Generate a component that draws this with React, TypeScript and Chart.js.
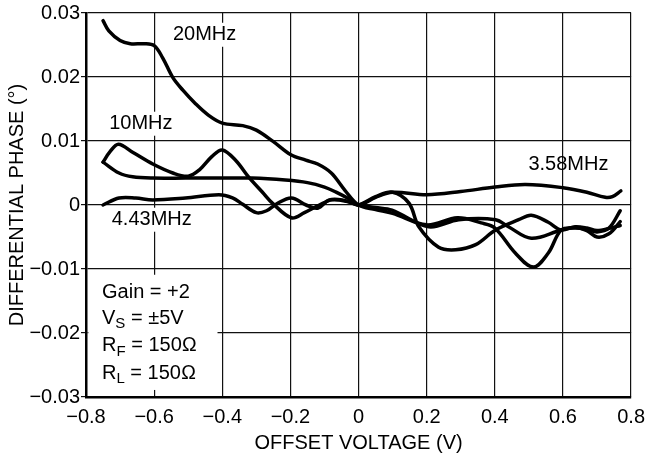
import React, { useEffect, useRef } from "react";
import { Chart, registerables } from "chart.js";
Chart.register(...registerables);

const FONT = '"Liberation Sans", Arial, Helvetica, sans-serif';

const xTickLabels = ["\u22120.8", "\u22120.6", "\u22120.4", "\u22120.2", "0", "0.2", "0.4", "0.6", "0.8"];
const yTickLabels = ["\u22120.03", "\u22120.02", "\u22120.01", "0", "0.01", "0.02", "0.03"];

const x20 = [-0.75, -0.733, -0.7, -0.67, -0.63, -0.6, -0.575, -0.545, -0.515, -0.48, -0.44, -0.4, -0.34, -0.3, -0.25, -0.2, -0.155, -0.12, -0.08, -0.04, 0, 0.05, 0.1, 0.2, 0.29, 0.36, 0.4, 0.46, 0.513, 0.557, 0.595, 0.636, 0.67, 0.7, 0.735, 0.768];
const y20 = [0.0288, 0.0272, 0.0257, 0.0252, 0.0252, 0.0249, 0.023, 0.0199, 0.0179, 0.0159, 0.014, 0.0128, 0.0124, 0.0117, 0.0099, 0.0079, 0.007, 0.0064, 0.005, 0.0023, 0, -0.0007, -0.0013, -0.0031, -0.002, -0.0028, -0.0036, -0.0075, -0.0097, -0.0075, -0.0039, -0.0036, -0.0038, -0.0042, -0.0036, -0.0009];

const x10 = [-0.75, -0.73, -0.705, -0.662, -0.604, -0.545, -0.5, -0.467, -0.43, -0.4, -0.361, -0.323, -0.282, -0.253, -0.197, -0.159, -0.115, -0.078, -0.029, 0, 0.05, 0.1, 0.148, 0.177, 0.235, 0.285, 0.344, 0.402, 0.47, 0.507, 0.557, 0.595, 0.636, 0.67, 0.7, 0.74, 0.768];
const y10 = [0.0067, 0.0083, 0.0095, 0.0082, 0.0064, 0.005, 0.0045, 0.0055, 0.0076, 0.0086, 0.007, 0.0044, 0.002, 0.0003, -0.002, -0.0012, 0, 0.0008, 0.0005, 0, 0.0013, 0.002, 0.0003, -0.0034, -0.0066, -0.007, -0.0062, -0.0039, -0.0023, -0.0016, -0.0027, -0.0039, -0.0034, -0.0036, -0.004, -0.0036, -0.0032];

const x443 = [-0.75, -0.703, -0.654, -0.604, -0.508, -0.41, -0.37, -0.34, -0.3, -0.27, -0.24, -0.197, -0.154, -0.12, -0.086, -0.048, 0, 0.05, 0.098, 0.206, 0.294, 0.402, 0.44, 0.507, 0.595, 0.636, 0.67, 0.7, 0.735, 0.768];
const y443 = [0, 0.0011, 0.0011, 0.0008, 0.0011, 0.0016, 0.0011, 0.0001, -0.0012, -0.0009, 0.0002, 0.0011, 0, -0.0005, 0.0008, 0.0008, 0, -0.0004, -0.0008, -0.0034, -0.0023, -0.0023, -0.0034, -0.0052, -0.0039, -0.0035, -0.004, -0.005, -0.0045, -0.0026];

const x358 = [-0.75, -0.703, -0.663, -0.604, -0.508, -0.41, -0.312, -0.215, -0.15, -0.1, -0.066, -0.03, 0, 0.05, 0.1, 0.2, 0.3, 0.4, 0.49, 0.6, 0.67, 0.724, 0.745, 0.77];
const y358 = [0.0067, 0.005, 0.0044, 0.0042, 0.0042, 0.0042, 0.0042, 0.0039, 0.0035, 0.0028, 0.002, 0.001, 0, 0.0012, 0.002, 0.0016, 0.0021, 0.0028, 0.0032, 0.0027, 0.002, 0.0012, 0.0013, 0.0022];

const curveNames = ["20MHz", "10MHz", "4.43MHz", "3.58MHz"];

function pts(xs: number[], ys: number[]) {
  return xs.map((x, i) => ({ x, y: ys[i] }));
}

const annotPlugin = {
  id: "annot",
  beforeDatasetsDraw(chart: any) {
    const { ctx, scales } = chart;
    const xs = scales.x;
    const ys = scales.y;
    const px = (v: number) => xs.getPixelForValue(v);
    const py = (v: number) => ys.getPixelForValue(v);
    ctx.save();
    const bx0 = px(-0.793);
    const bx1 = px(-0.414);
    const by0 = py(-0.0109);
    const by1 = py(-0.0289);
    ctx.fillStyle = "#fff";
    ctx.fillRect(bx0, by0, bx1 - bx0, by1 - by0);

    ctx.font = `20px ${FONT}`;
    ctx.textBaseline = "middle";
    ctx.textAlign = "center";
    const labelPos: [number, number, boolean][] = [
      [-0.452, 0.0266, true],
      [-0.639, 0.0127, true],
      [-0.607, -0.0023, true],
      [0.616, 0.0064, false],
    ];
    curveNames.forEach((name, i) => {
      const [vx, vy, bg] = labelPos[i];
      const cx = px(vx);
      const cy = py(vy);
      const w = ctx.measureText(name).width;
      if (bg) {
        ctx.fillStyle = "#fff";
        ctx.fillRect(cx - w / 2 - 2, cy - 12, w + 4, 24);
      }
      ctx.fillStyle = "#000";
      ctx.fillText(name, cx, cy);
    });

    ctx.textAlign = "left";
    const lx = px(-0.753);
    const drawSub = (y: number, main: string, sub: string, rest: string) => {
      ctx.font = `20px ${FONT}`;
      ctx.fillStyle = "#000";
      let x = lx;
      ctx.fillText(main, x, y);
      x += ctx.measureText(main).width;
      if (sub) {
        ctx.font = `15px ${FONT}`;
        ctx.fillText(sub, x, y + 6);
        x += ctx.measureText(sub).width;
        ctx.font = `20px ${FONT}`;
      }
      ctx.fillText(rest, x, y);
    };
    drawSub(py(-0.0136), "Gain = +2", "", "");
    drawSub(py(-0.0177), "V", "S", " = \u00b15V");
    drawSub(py(-0.022), "R", "F", " = 150\u2126");
    drawSub(py(-0.0263), "R", "L", " = 150\u2126");
    ctx.restore();
  },
};

export default function App() {
  const ref = useRef<HTMLCanvasElement>(null);
  useEffect(() => {
    if (!ref.current) return;
    const lineDs = (label: string, xs: number[], ys: number[]) => ({
      label,
      data: pts(xs, ys),
      borderColor: "#000",
      borderWidth: 3.5,
      pointRadius: 0,
      tension: 0.35,
      fill: false,
      borderCapStyle: "round" as const,
      borderJoinStyle: "round" as const,
    });
    const chart = new Chart(ref.current, {
      type: "line",
      data: {
        datasets: [
          lineDs(curveNames[0], x20, y20),
          lineDs(curveNames[1], x10, y10),
          lineDs(curveNames[2], x443, y443),
          lineDs(curveNames[3], x358, y358),
        ],
      },
      options: {
        animation: false,
        responsive: false,
        devicePixelRatio: 1,
        layout: { padding: { top: 13, right: 20, left: 0, bottom: 0 } },
        plugins: { legend: { display: false }, tooltip: { enabled: false } },
        scales: {
          x: {
            type: "linear",
            min: -0.8,
            max: 0.8,
            afterFit: (s: any) => {
              s.height = 58;
            },
            ticks: {
              stepSize: 0.2,
              autoSkip: false,
              maxRotation: 0,
              color: "#000",
              padding: 8,
              font: { size: 20, family: FONT },
              callback: (_v: any, i: number) => xTickLabels[i],
            },
            grid: { color: "#111", lineWidth: 1.2, drawTicks: false },
            border: { color: "#000", width: 2.5 },
            title: {
              display: true,
              text: "OFFSET VOLTAGE (V)",
              color: "#000",
              font: { size: 20, family: FONT },
              padding: { top: 0, bottom: 0 },
            },
          },
          y: {
            type: "linear",
            min: -0.03,
            max: 0.03,
            afterFit: (s: any) => {
              s.width = 86;
            },
            ticks: {
              stepSize: 0.01,
              autoSkip: false,
              color: "#000",
              padding: 1,
              font: { size: 20, family: FONT },
              callback: (_v: any, i: number) => yTickLabels[i],
            },
            grid: { color: "#111", lineWidth: 1.2, drawTicks: true, tickLength: 5 },
            border: { color: "#000", width: 2.5 },
            title: {
              display: true,
              text: "DIFFERENTIAL PHASE (\u00b0)",
              color: "#000",
              font: { size: 20, family: FONT },
              padding: { top: 5, bottom: 0 },
            },
          },
        },
      },
      plugins: [annotPlugin],
    });
    return () => chart.destroy();
  }, []);
  return (
    <div style={{ position: "fixed", left: 0, top: 0, width: 653, height: 455, background: "#fff" }}>
      <canvas ref={ref} width={653} height={455} />
    </div>
  );
}
